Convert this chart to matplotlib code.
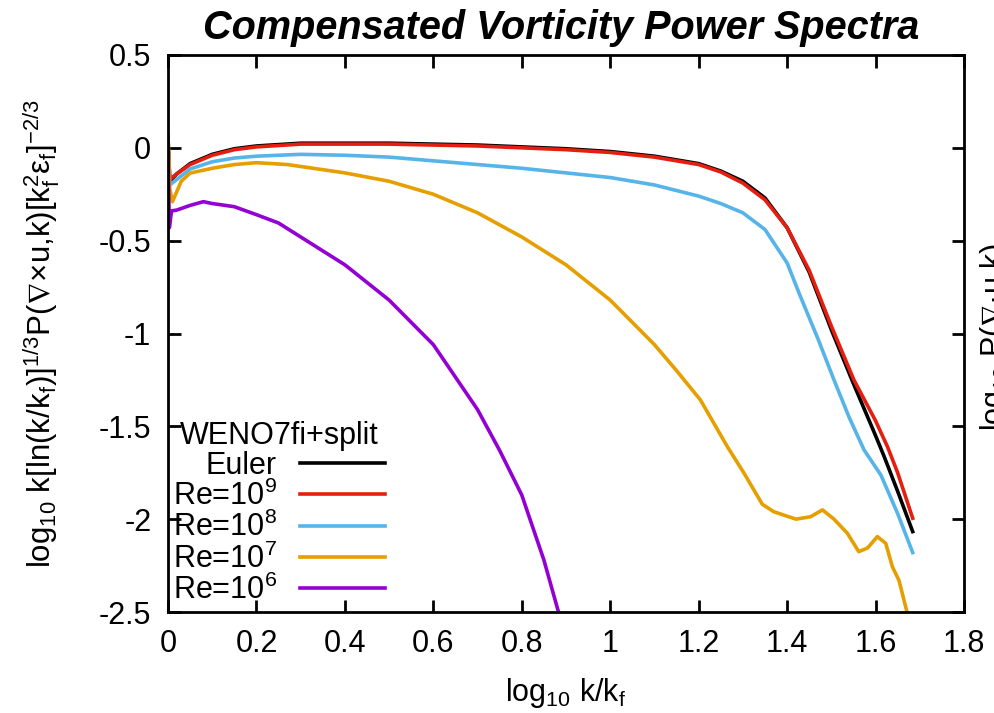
import matplotlib
matplotlib.use("Agg")
import matplotlib.pyplot as plt
import matplotlib.ticker as ticker

plt.rcParams["font.family"] = ["Liberation Sans", "DejaVu Sans"]
plt.rcParams["axes.unicode_minus"] = False
plt.rcParams["mathtext.fontset"] = "custom"
plt.rcParams["mathtext.rm"] = "Liberation Sans"
plt.rcParams["mathtext.it"] = "Liberation Sans:italic"
plt.rcParams["mathtext.fallback"] = "stixsans"

# --- data (log10 k/kf, compensated spectrum) ---
euler_x = [0.0, 0.004, 0.02, 0.05, 0.1, 0.15, 0.2, 0.3, 0.4, 0.5, 0.6, 0.7, 0.8,
           0.9, 1.0, 1.1, 1.2, 1.25, 1.3, 1.35, 1.4, 1.45, 1.5, 1.55, 1.6, 1.619,
           1.65, 1.684]
euler_y = [0.06, -0.18, -0.14, -0.085, -0.035, -0.005, 0.01, 0.025, 0.025, 0.025,
           0.02, 0.015, 0.005, -0.005, -0.02, -0.045, -0.085, -0.125, -0.18, -0.27,
           -0.43, -0.67, -0.98, -1.27, -1.55, -1.66, -1.85, -2.067]

re9_x = [0.0, 0.004, 0.02, 0.05, 0.1, 0.15, 0.2, 0.3, 0.4, 0.5, 0.6, 0.7, 0.8,
         0.9, 1.0, 1.1, 1.2, 1.25, 1.3, 1.35, 1.4, 1.45, 1.5, 1.551, 1.6, 1.627,
         1.65, 1.684]
re9_y = [0.03, -0.17, -0.14, -0.09, -0.04, -0.01, 0.005, 0.02, 0.02, 0.02, 0.015,
         0.01, 0.0, -0.01, -0.025, -0.05, -0.09, -0.13, -0.19, -0.28, -0.43, -0.66,
         -0.96, -1.25, -1.47, -1.61, -1.75, -1.995]

re8_x = [0.0, 0.004, 0.02, 0.05, 0.1, 0.15, 0.2, 0.3, 0.4, 0.5, 0.6, 0.7, 0.8,
         0.9, 1.0, 1.1, 1.2, 1.25, 1.3, 1.35, 1.4, 1.43, 1.47, 1.506, 1.54, 1.574,
         1.612, 1.65, 1.684]
re8_y = [0.0, -0.2, -0.17, -0.114, -0.075, -0.055, -0.045, -0.035, -0.04, -0.05,
         -0.07, -0.09, -0.11, -0.135, -0.16, -0.2, -0.26, -0.3, -0.35, -0.44, -0.62,
         -0.8, -1.03, -1.25, -1.45, -1.627, -1.762, -1.97, -2.18]

re7_x = [0.0, 0.004, 0.01, 0.03, 0.05, 0.1, 0.15, 0.2, 0.27, 0.4, 0.5, 0.6, 0.7,
         0.8, 0.9, 1.0, 1.1, 1.15, 1.204, 1.265, 1.302, 1.344, 1.37, 1.42, 1.453,
         1.48, 1.506, 1.536, 1.562, 1.582, 1.604, 1.623, 1.638, 1.653, 1.67, 1.684]
re7_y = [0.06, -0.22, -0.29, -0.18, -0.136, -0.11, -0.09, -0.08, -0.09, -0.135,
         -0.18, -0.25, -0.35, -0.48, -0.63, -0.82, -1.06, -1.2, -1.358, -1.61,
         -1.75, -1.92, -1.96, -2.0, -1.987, -1.95, -2.0, -2.075, -2.175, -2.155,
         -2.094, -2.13, -2.256, -2.33, -2.49, -2.6]

re6_x = [0.0, 0.003, 0.008, 0.02, 0.05, 0.08, 0.1, 0.15, 0.2, 0.25, 0.3, 0.4, 0.5,
         0.6, 0.7, 0.75, 0.8, 0.85, 0.883, 0.9]
re6_y = [0.0, -0.43, -0.34, -0.335, -0.31, -0.29, -0.3, -0.317, -0.36, -0.405,
         -0.48, -0.63, -0.82, -1.06, -1.41, -1.63, -1.87, -2.22, -2.5, -2.65]

series = [
    ("Euler", euler_x, euler_y, "black"),
    ("Re=10$^{9}$", re9_x, re9_y, "#e51e10"),
    ("Re=10$^{8}$", re8_x, re8_y, "#56b4e9"),
    ("Re=10$^{7}$", re7_x, re7_y, "#e69f00"),
    ("Re=10$^{6}$", re6_x, re6_y, "#9400d3"),
]

x_ticks = [0, 0.2, 0.4, 0.6, 0.8, 1.0, 1.2, 1.4, 1.6, 1.8]
y_ticks = [0.5, 0, -0.5, -1, -1.5, -2, -2.5]

FS = 22

fig = plt.figure(figsize=(9.94, 7.13), dpi=100)
ax = fig.add_axes([168 / 994, 101 / 713, 796 / 994, 557 / 713])

for label, xs, ys, color in series:
    ax.plot(xs, ys, color=color, linewidth=2.6, label=label)

ax.set_xlim(0, 1.8)
ax.set_ylim(-2.5, 0.5)
ax.set_xticks(x_ticks)
ax.set_yticks(y_ticks)
fmt = ticker.FuncFormatter(lambda v, p: f"{v:g}")
ax.xaxis.set_major_formatter(fmt)
ax.yaxis.set_major_formatter(fmt)
ax.tick_params(direction="in", length=9, width=2, labelsize=FS, pad=12,
               top=True, right=True)
for sp in ax.spines.values():
    sp.set_linewidth(2)

ax.set_xlabel("log$_{10}$ k/k$_\\mathregular{f}$", fontsize=FS)
ax.xaxis.set_label_coords(0.5, -0.115)
ax.set_ylabel("log$_{10}$ k[ln(k/k$_\\mathregular{f}$)]$^\\mathregular{1/3}$"
              "P($\\nabla$×u,k)[k$_\\mathregular{f}^\\mathregular{2}$ε$_\\mathregular{f}$]"
              "$^\\mathregular{-2/3}$", fontsize=22.5)
ax.yaxis.set_label_coords(-0.133, 0.5)

fig.text(561 / 994, 1 - 28 / 713, "Compensated Vorticity Power Spectra",
         ha="center", va="center", fontsize=28.5,
         fontweight="bold", fontstyle="italic")

# clipped label of the neighbouring panel
fig.text(978 / 994, 1 - 337 / 713, "log$_{10}$ P($\\nabla$·u,k)", rotation=90,
         ha="left", va="center", fontsize=FS)

leg = ax.legend(loc="lower left", bbox_to_anchor=(0.006, 0.011), frameon=False,
                markerfirst=False, title="WENO7fi+split", fontsize=FS,
                title_fontsize=FS, handlelength=2.8, handletextpad=0.75,
                labelspacing=0.0, borderpad=0, borderaxespad=0)

fig.savefig("out.png", dpi=100)
